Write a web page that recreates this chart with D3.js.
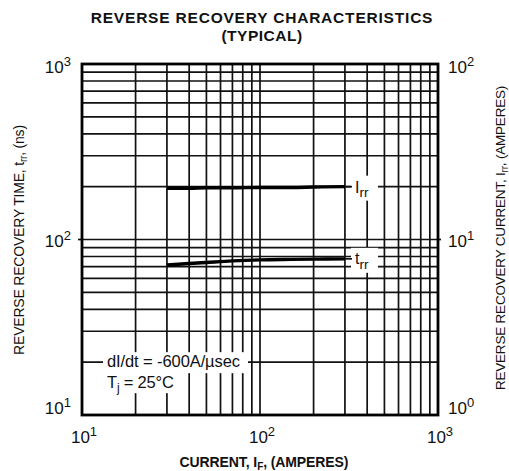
<!DOCTYPE html>
<html><head><meta charset="utf-8">
<script src="https://cdn.jsdelivr.net/npm/d3@7"></script>
<style>body{margin:0;background:#fff}svg{display:block}text{font-family:"Liberation Sans",Arial,Helvetica,sans-serif;fill:#111}</style>
</head><body>
<script>
const currents = [30, 40, 50, 70, 100, 150, 200, 300];
const irrAmps = [19.6, 19.6, 19.7, 19.7, 19.8, 19.8, 19.9, 20.0];
const trrNs = [71.5, 73, 74, 75.5, 76.5, 77, 77.3, 77.6];
const xTicks = [10, 100, 1000];
const leftTicks = [10, 100, 1000];
const rightTicks = [1, 10, 100];

const W = 509, H = 471;
const m = {l: 82, r: 438, t: 64, b: 415};
const svg = d3.select("body").append("svg").attr("width", W).attr("height", H);

const x = d3.scaleLog().domain([10, 1000]).range([m.l, m.r]);
const yL = d3.scaleLog().domain([10, 1000]).range([m.b, m.t]);
const yR = d3.scaleLog().domain([1, 100]).range([m.b, m.t]);

const gridVals = [];
[10, 100].forEach(d => { for (let k = 1; k <= 10; k++) gridVals.push(d * k); });
const grid = Array.from(new Set(gridVals));

const gw = 1.7;
svg.selectAll(".vg").data(grid).enter().append("line")
  .attr("x1", d => x(d)).attr("x2", d => x(d)).attr("y1", m.t).attr("y2", m.b)
  .attr("stroke", "#111").attr("stroke-width", gw);
svg.selectAll(".hg").data(grid).enter().append("line")
  .attr("y1", d => yL(d)).attr("y2", d => yL(d)).attr("x1", m.l).attr("x2", m.r)
  .attr("stroke", "#111").attr("stroke-width", gw);

svg.append("line").attr("x1", m.l - 4).attr("x2", m.l).attr("y1", yL(100)).attr("y2", yL(100)).attr("stroke", "#111").attr("stroke-width", gw);
svg.append("line").attr("x1", m.r).attr("x2", m.r + 3).attr("y1", yR(10)).attr("y2", yR(10)).attr("stroke", "#111").attr("stroke-width", gw);

function blank(x0, y0, w, h) {
  svg.append("rect").attr("x", x0).attr("y", y0).attr("width", w).attr("height", h).attr("fill", "#fff");
}

const ay = yL(20);
blank(103, ay - 10, 145, 21);
blank(103, ay + 10, 80, 21);

const line = d3.line().curve(d3.curveMonotoneX);
svg.append("path")
  .attr("d", line(currents.map((c, i) => [x(c), yR(irrAmps[i])])))
  .attr("fill", "none").attr("stroke", "#000").attr("stroke-width", 3.4);
svg.append("path")
  .attr("d", line(currents.map((c, i) => [x(c), yL(trrNs[i])])))
  .attr("fill", "none").attr("stroke", "#000").attr("stroke-width", 3.4);

const irrEnd = yR(irrAmps[irrAmps.length - 1]);
const trrEnd = yL(trrNs[trrNs.length - 1]);
blank(351, irrEnd - 11, 27, 25);
blank(351, trrEnd - 11, 27, 25);
svg.append("line").attr("x1", x(300)).attr("x2", 352).attr("y1", irrEnd).attr("y2", irrEnd).attr("stroke", "#111").attr("stroke-width", gw);
svg.append("line").attr("x1", x(300)).attr("x2", 352).attr("y1", trrEnd).attr("y2", trrEnd).attr("stroke", "#111").attr("stroke-width", gw);

function subLabel(px, py, main, sub, size) {
  const t = svg.append("text").attr("x", px).attr("y", py).attr("font-size", size);
  t.append("tspan").text(main);
  t.append("tspan").attr("dy", size * 0.3).attr("font-size", size * 0.85).text(sub);
  return t;
}
subLabel(355, irrEnd + 6, "I", "rr", 16);
subLabel(355, trrEnd + 5, "t", "rr", 16);

svg.append("text").attr("x", 107).attr("y", ay + 5).attr("font-size", 16.5).attr("letter-spacing", -0.1).text("dI/dt = -600A/µsec");
const tj = svg.append("text").attr("x", 107).attr("y", ay + 26).attr("font-size", 16.5).attr("letter-spacing", -0.2);
tj.append("tspan").text("T");
tj.append("tspan").attr("dy", 4).attr("font-size", 12).text("j");
tj.append("tspan").attr("dy", -4).text(" = 25°C");

svg.append("rect").attr("x", m.l).attr("y", m.t).attr("width", m.r - m.l).attr("height", m.b - m.t)
  .attr("fill", "none").attr("stroke", "#000").attr("stroke-width", 2.8);

function pow10(px, py, v, anchor) {
  const e = Math.round(Math.log10(v));
  const t = svg.append("text").attr("x", px).attr("y", py).attr("font-size", 17).attr("text-anchor", anchor);
  t.append("tspan").text("10");
  t.append("tspan").attr("dy", -7).attr("font-size", 13).text(e);
}
const vOff = [-1, 7, 9];
leftTicks.forEach((v, i) => pow10(m.l - 11, yL(v) + vOff[i], v, "end"));
rightTicks.forEach((v, i) => pow10(m.r + 10, yR(v) + vOff[i], v, "start"));
xTicks.forEach(v => pow10(x(v) + 2, m.b + 28, v, "middle"));

svg.append("text").attr("x", 262).attr("y", 23).attr("text-anchor", "middle").attr("font-size", 15.5).attr("font-weight", "bold").attr("letter-spacing", 0.8).text("REVERSE RECOVERY CHARACTERISTICS");
svg.append("text").attr("x", 262).attr("y", 40.5).attr("text-anchor", "middle").attr("font-size", 15.5).attr("font-weight", "bold").attr("letter-spacing", 0.5).text("(TYPICAL)");

const xt = svg.append("text").attr("x", 264).attr("y", 467).attr("text-anchor", "middle").attr("font-size", 14).attr("font-weight", "bold").attr("letter-spacing", -0.1);
xt.append("tspan").text("CURRENT, I");
xt.append("tspan").attr("dy", 3).attr("font-size", 10).text("F");
xt.append("tspan").attr("dy", -3).text(", (AMPERES)");

const lt = svg.append("text").attr("transform", "translate(24,240) rotate(-90)").attr("text-anchor", "middle").attr("font-size", 14).attr("letter-spacing", -0.2);
lt.append("tspan").text("REVERSE RECOVERY TIME, t");
lt.append("tspan").attr("dy", 3).attr("font-size", 10).text("rr");
lt.append("tspan").attr("dy", -3).text(", (ns)");

const rt = svg.append("text").attr("transform", "translate(505,238) rotate(-90)").attr("text-anchor", "middle").attr("font-size", 13.5).attr("letter-spacing", -0.2);
rt.append("tspan").text("REVERSE RECOVERY CURRENT, I");
rt.append("tspan").attr("dy", 3).attr("font-size", 10).text("rr");
rt.append("tspan").attr("dy", -3).text(", (AMPERES)");
</script>
</body></html>
